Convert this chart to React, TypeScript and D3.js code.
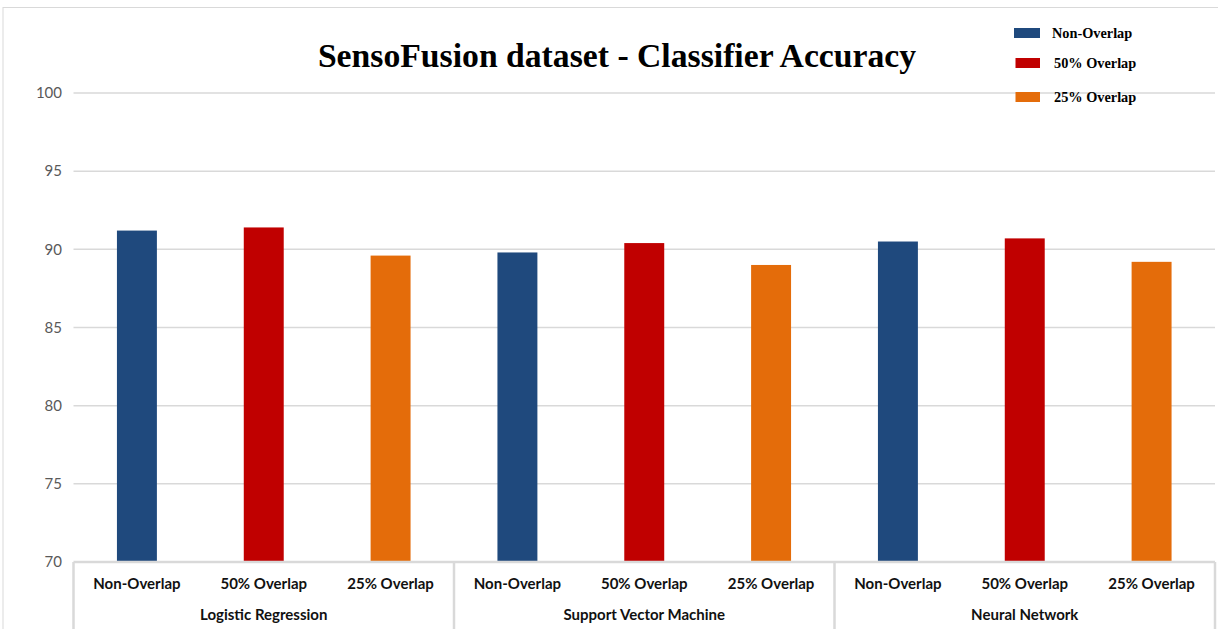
import React from "react";
import * as d3 from "d3";

const groups = ["Logistic Regression", "Support Vector Machine", "Neural Network"];
const series = ["Non-Overlap", "50% Overlap", "25% Overlap"];
const nonOverlap = [91.2, 89.8, 90.5];
const overlap50 = [91.4, 90.4, 90.7];
const overlap25 = [89.6, 89.0, 89.2];
const yTicks = [70, 75, 80, 85, 90, 95, 100];
const colors = ["#1f497d", "#c00000", "#e46c0a"];
const title = "SensoFusion dataset - Classifier Accuracy";

const W = 1218;
const H = 629;
const plotLeft = 73.5;
const plotRight = 1215;
const plotTop = 93;
const plotBottom = 562;

export default function App() {
  const values = [nonOverlap, overlap50, overlap25];
  const cats: { key: string; group: number; s: number; v: number }[] = [];
  groups.forEach((g, gi) => {
    series.forEach((s, si) => {
      cats.push({ key: `${gi}-${si}`, group: gi, s: si, v: values[si][gi] });
    });
  });

  const y = d3.scaleLinear().domain([70, 100]).range([plotBottom, plotTop]);
  const x = d3
    .scaleBand<string>()
    .domain(cats.map((c) => c.key))
    .range([plotLeft, plotRight])
    .paddingInner(0.685)
    .paddingOuter(0.3425);
  const xGroup = d3
    .scaleBand<string>()
    .domain(groups)
    .range([plotLeft, plotRight])
    .padding(0);

  const legendY = [33, 63, 97];

  return (
    <div style={{ position: "absolute", left: 0, top: 0 }}>
      <svg width={W} height={H} style={{ display: "block", background: "#fff" }}>
        <rect x={3} y={7.5} width={W + 10} height={H + 10} fill="#fff" stroke="#d9d9d9" strokeWidth={1} />
        {yTicks.map((t) => (
          <g key={t}>
            {t > 70 && (
              <line x1={plotLeft} x2={plotRight} y1={y(t)} y2={y(t)} stroke="#d9d9d9" strokeWidth={1.5} />
            )}
            <text
              x={62}
              y={y(t)}
              dy="0.35em"
              textAnchor="end"
              fontFamily="Lato, 'Open Sans', sans-serif"
              fontSize={15}
              fill="#595959"
            >
              {t}
            </text>
          </g>
        ))}
        {cats.map((c) => (
          <rect
            key={c.key}
            x={x(c.key)}
            y={y(c.v)}
            width={x.bandwidth()}
            height={y(70) - y(c.v)}
            fill={colors[c.s]}
          />
        ))}
        <line x1={plotLeft} x2={plotRight} y1={plotBottom} y2={plotBottom} stroke="#d9d9d9" strokeWidth={2.5} />
        {[...groups.map((g) => xGroup(g) as number), plotRight].map((gx, i) => (
          <line key={i} x1={gx} x2={gx} y1={plotBottom} y2={H} stroke="#d9d9d9" strokeWidth={2.5} />
        ))}
        {cats.map((c) => (
          <text
            key={"l" + c.key}
            x={(x(c.key) as number) + x.bandwidth() / 2}
            y={589}
            textAnchor="middle"
            fontFamily="Lato, 'Open Sans', sans-serif"
            fontWeight="bold"
            fontSize={15}
            fill="#111"
          >
            {series[c.s]}
          </text>
        ))}
        {groups.map((g) => (
          <text
            key={"g" + g}
            x={(xGroup(g) as number) + xGroup.bandwidth() / 2}
            y={620}
            textAnchor="middle"
            fontFamily="Lato, 'Open Sans', sans-serif"
            fontWeight="bold"
            fontSize={15}
            fill="#111"
          >
            {g}
          </text>
        ))}
        <text
          x={617}
          y={67}
          textAnchor="middle"
          fontFamily="'Liberation Serif', 'Times New Roman', serif"
          fontWeight="bold"
          fontSize={33.7}
          fill="#000"
        >
          {title}
        </text>
        {series.map((s, i) => (
          <g key={"leg" + s}>
            <rect x={i === 0 ? 1014 : 1015.5} y={legendY[i] - 5} width={i === 0 ? 26 : 24.5} height={10} fill={colors[i]} />
            <text
              x={i === 0 ? 1052 : 1054}
              y={legendY[i]}
              dy="0.35em"
              fontFamily="'Liberation Serif', 'Times New Roman', serif"
              fontWeight="bold"
              fontSize={14.3}
              fill="#000"
            >
              {s}
            </text>
          </g>
        ))}
      </svg>
    </div>
  );
}
